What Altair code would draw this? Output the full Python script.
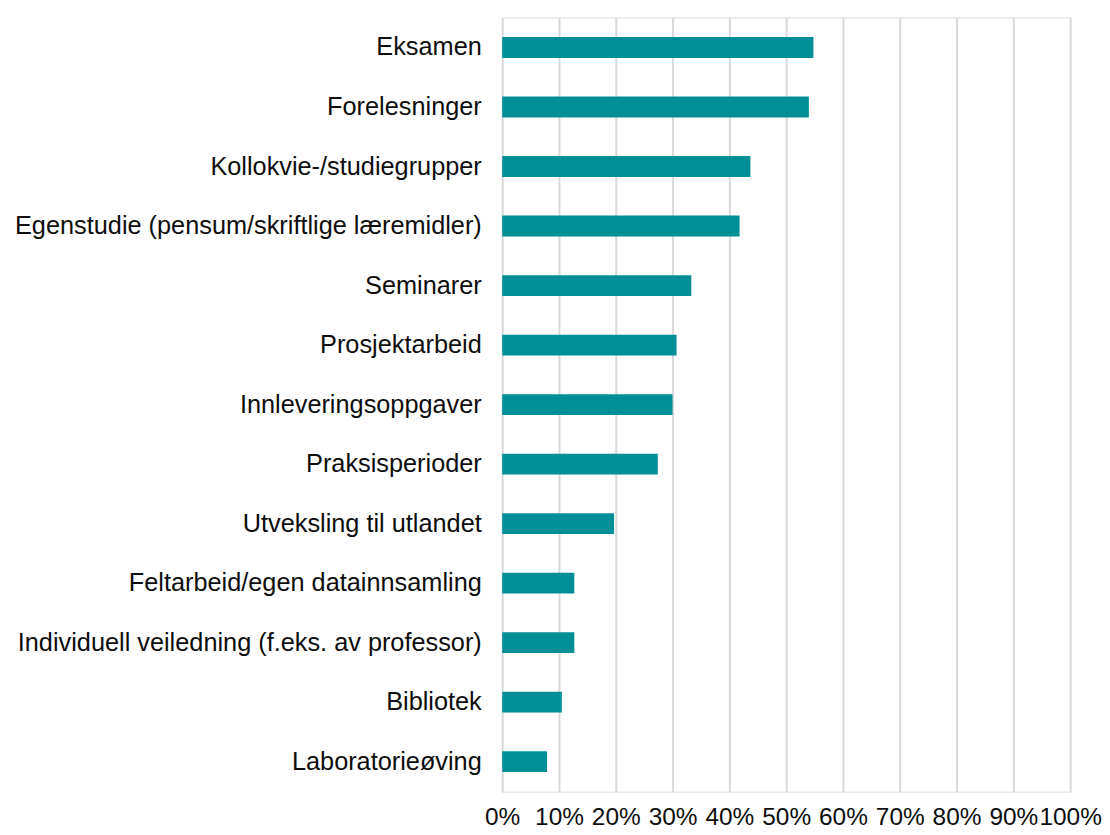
import altair as alt
import pandas as pd

categories = [
    "Eksamen",
    "Forelesninger",
    "Kollokvie-/studiegrupper",
    "Egenstudie (pensum/skriftlige læremidler)",
    "Seminarer",
    "Prosjektarbeid",
    "Innleveringsoppgaver",
    "Praksisperioder",
    "Utveksling til utlandet",
    "Feltarbeid/egen datainnsamling",
    "Individuell veiledning (f.eks. av professor)",
    "Bibliotek",
    "Laboratorieøving",
]
values = [0.548, 0.540, 0.437, 0.418, 0.333, 0.307, 0.300, 0.274, 0.197, 0.127, 0.127, 0.105, 0.079]
x_ticks = [0.0, 0.1, 0.2, 0.3, 0.4, 0.5, 0.6, 0.7, 0.8, 0.9, 1.0]

df = pd.DataFrame({"kategori": categories, "andel": values})

chart = alt.Chart(df).mark_bar(color="#008F96").encode(
    y=alt.Y(
        "kategori:N",
        sort=categories,
        title=None,
        scale=alt.Scale(paddingInner=0.65, paddingOuter=0.33),
        axis=alt.Axis(
            ticks=False,
            tickSize=0,
            domain=False,
            grid=False,
            labelFont="Liberation Sans",
            labelFontSize=25.4,
            labelColor="#0d0d0d",
            labelPadding=21,
            labelLimit=700,
        ),
    ),
    x=alt.X(
        "andel:Q",
        title=None,
        scale=alt.Scale(domain=[0, 1], nice=False),
        axis=alt.Axis(
            format=".0%",
            values=x_ticks,
            ticks=False,
            tickSize=0,
            domain=False,
            grid=True,
            gridColor="#D9D9D9",
            gridWidth=2,
            labelFont="Liberation Sans",
            labelFontSize=24.5,
            labelColor="#0d0d0d",
            labelPadding=14,
            labelFlush=False,
            labelOverlap=False,
        ),
    ),
).properties(
    width=570,
    height=777,
    padding={"left": 6, "top": 8, "right": 0, "bottom": 0},
).configure_view(stroke=None).configure(background="white")

chart.save("out.html", embed_options={"renderer": "svg", "actions": False})
